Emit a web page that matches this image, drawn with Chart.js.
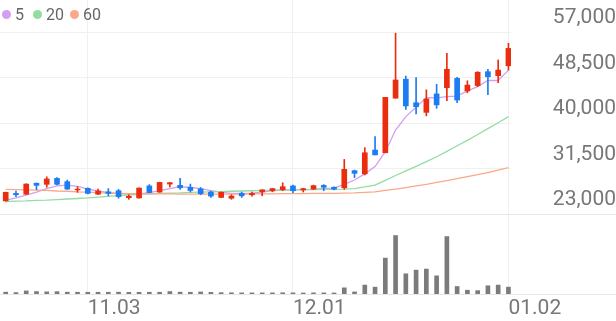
<!DOCTYPE html>
<html>
<head>
<meta charset="utf-8">
<script src="https://cdn.jsdelivr.net/npm/chart.js@4.4.1/dist/chart.umd.min.js"></script>
<style>
  html, body { margin: 0; padding: 0; background: #fff; }
  #wrap { position: relative; width: 616px; height: 321px; overflow: hidden; font-family: Roboto, sans-serif; }
  #price { position: absolute; left: 0; top: 0; }
  #volume { position: absolute; left: 0; top: 214px; }
  .dot { position: absolute; top: 10px; width: 9px; height: 9px; border-radius: 50%; }
  .lbl { position: absolute; top: 5px; font-size: 16px; line-height: 20px; color: #666; }
</style>
</head>
<body>
<div id="wrap">
  <canvas id="price" width="616" height="214"></canvas>
  <canvas id="volume" width="616" height="107"></canvas>
  <div id="legend"></div>
</div>
<script>
// ---- data ----
const maNames = ['5', '20', '60'];
const maColors = ['#d59ef0', '#93dda3', '#fba886'];

const opens = [25450, 26850, 26700, 28750, 28550, 29650, 29050, 27500, 27800, 26700,
               27150, 27350, 26050, 26000, 28250, 27100, 28600, 28350, 28000, 27700,
               27100, 26100, 25950, 26850, 26600, 27150, 27350, 27550, 28250, 27500,
               27650, 28350, 28000, 27900, 31100, 30500, 34950, 34450, 44650, 48200,
               43800, 42000, 45450, 46600, 48350, 46000, 47000, 49600, 48850, 50700];
const highs = [27100, 27300, 28650, 28800, 29950, 29800, 29350, 28100, 27900, 27650,
               27750, 27600, 26600, 27900, 28500, 28950, 28900, 29650, 28600, 27950,
               27300, 27150, 26600, 27100, 27100, 27550, 27800, 28850, 28400, 27800,
               28400, 28500, 28100, 33200, 31200, 35400, 37450, 44800, 56800, 48800,
               48500, 46200, 47250, 53050, 48550, 47900, 49600, 50050, 51800, 54900];
const lows = [25400, 26250, 26650, 27550, 28000, 28450, 27600, 27050, 26750, 26600,
              26400, 25950, 25750, 25950, 26950, 27050, 28050, 27600, 27100, 26600,
              26100, 26050, 25750, 26100, 26350, 26400, 27150, 27350, 27000, 27100,
              27600, 27350, 27500, 27600, 29800, 30300, 34050, 34450, 44650, 42550,
              41700, 41350, 42750, 44200, 43800, 45650, 46800, 45300, 47550, 49900];
const closes = [27050, 26600, 28600, 28350, 29550, 28550, 27650, 27650, 26850, 27300,
                26850, 26250, 26300, 27850, 27000, 28900, 28850, 27900, 27400, 26800,
                26350, 27050, 26350, 26400, 26850, 27500, 27750, 28100, 27350, 27750,
                28300, 28000, 27650, 31350, 30600, 34450, 34050, 44800, 48050, 43200,
                43050, 44500, 43400, 50050, 44300, 47100, 49500, 48650, 49900, 53950];

const ma5 = [25600, 26000, 26550, 27100, 27750, 28250, 28400, 28150, 27650, 27300,
             27000, 26850, 26700, 26750, 27000, 27350, 27750, 28100, 27950, 27750,
             27350, 27100, 26850, 26850, 26900, 27100, 27350, 27500, 27500, 27550,
             27600, 27800, 27850, 28550, 29350, 30500, 31850, 34650, 38700, 41200,
             42950, 44750, 44700, 44950, 45050, 46000, 46800, 47950, 47950, 49900];
const ma20 = [25300, 25400, 25450, 25550, 25600, 25700, 25800, 25900, 26000, 26150,
              26300, 26450, 26550, 26650, 26750, 26850, 26900, 26950, 27050, 27100,
              27150, 27200, 27250, 27300, 27350, 27400, 27450, 27450, 27500, 27550,
              27550, 27600, 27600, 27650, 27750, 28050, 28400, 29300, 30200, 31050,
              31900, 32800, 33700, 34700, 35750, 36750, 37850, 38950, 40050, 41200];
const ma60 = [27600, 27550, 27500, 27450, 27400, 27300, 27250, 27150, 27100, 27000,
              26900, 26850, 26800, 26800, 26750, 26750, 26750, 26700, 26700, 26700,
              26700, 26700, 26700, 26700, 26750, 26750, 26750, 26800, 26800, 26800,
              26850, 26850, 26850, 26900, 26950, 27050, 27150, 27400, 27650, 27950,
              28250, 28550, 28900, 29250, 29600, 30000, 30350, 30750, 31200, 31650];

// volume, thousand shares
const volumes = [180, 140, 300, 240, 210, 230, 180, 170, 170, 170,
                 170, 180, 160, 170, 170, 170, 240, 180, 170, 200,
                 160, 130, 120, 110, 110, 110, 110, 120, 110, 100,
                 110, 110, 100, 600, 200, 870, 670, 3500, 5700, 1970,
                 2330, 2430, 1770, 5600, 730, 370, 330, 800, 870, 670];

const priceTicks = [23000, 31500, 40000, 48500, 57000];
const dateTickIdx = [8, 28, 49];
const dateTickLabels = ['11.03', '12.01', '01.02'];

// ---- chart setup ----
const UP = '#ea2c0f';
const DOWN = '#1b7cf3';
const GRID = '#f0f0f0';
const AXIS_FONT = { family: 'Roboto', size: 21 };
const candleColor = ctx => closes[ctx.dataIndex] >= opens[ctx.dataIndex] ? UP : DOWN;

const xRange = { type: 'linear', min: -0.556, max: 49.25, offset: false };

// legend (html overlay)
const legendEl = document.getElementById('legend');
const dotLeft = [1.5, 32.5, 69.5];
const textLeft = [15, 46, 83];
maNames.forEach((name, i) => {
    legendEl.insertAdjacentHTML('beforeend',
        `<span class="dot" style="left:${dotLeft[i]}px;background:${maColors[i]}"></span>` +
        `<span class="lbl" style="left:${textLeft[i]}px">${name}</span>`);
});

const maSets = [ma5, ma20, ma60].map((arr, i) => ({
    type: 'line',
    label: maNames[i],
    data: arr.map((v, k) => ({ x: k, y: v })),
    borderColor: maColors[i],
    borderWidth: 1.3,
    pointRadius: 0,
    tension: 0,
    order: 4 - i
}));

new Chart(document.getElementById('price'), {
    type: 'bar',
    data: {
        datasets: [
            ...maSets,
            {
                label: 'wick',
                data: highs.map((h, i) => ({ x: i, y: [lows[i], h] })),
                backgroundColor: candleColor,
                barThickness: 1,
                grouped: false,
                order: 1
            },
            {
                label: 'body',
                data: opens.map((o, i) => ({ x: i, y: [o, closes[i]] })),
                backgroundColor: candleColor,
                barThickness: 5,
                grouped: false,
                order: 0
            }
        ]
    },
    options: {
        responsive: false,
        animation: false,
        layout: { padding: 0 },
        plugins: { legend: { display: false }, tooltip: { enabled: false } },
        scales: {
            x: {
                ...xRange,
                afterBuildTicks: s => { s.ticks = dateTickIdx.map(v => ({ value: v })); },
                ticks: { display: false },
                grid: { color: GRID, drawTicks: false, offset: false },
                border: { display: false }
            },
            y: {
                position: 'right',
                min: 23000,
                max: 63000,
                afterBuildTicks: s => { s.ticks = priceTicks.map(v => ({ value: v })); },
                afterFit: s => {
                    s.width = 105;
                    s.paddingTop = 0;
                    s.paddingBottom = 0;
                },
                ticks: {
                    callback: v => v.toLocaleString('en-US'),
                    color: '#777',
                    font: AXIS_FONT,
                    crossAlign: 'far',
                    padding: 38,
                    labelOffset: -14
                },
                grid: { color: GRID, drawTicks: false },
                border: { display: false }
            }
        }
    }
});

// separator + baseline across the whole width
const frameLines = {
    id: 'frameLines',
    beforeDatasetsDraw(chart) {
        const { ctx, chartArea, width } = chart;
        ctx.save();
        ctx.strokeStyle = '#e6e6e6';
        ctx.lineWidth = 1;
        ctx.beginPath();
        ctx.moveTo(0, 0.5);
        ctx.lineTo(width, 0.5);
        ctx.moveTo(0, chartArea.bottom + 0.5);
        ctx.lineTo(width, chartArea.bottom + 0.5);
        ctx.stroke();
        ctx.restore();
    }
};

new Chart(document.getElementById('volume'), {
    type: 'bar',
    data: {
        datasets: [{
            label: 'volume',
            data: volumes.map((v, i) => ({ x: i, y: v })),
            backgroundColor: '#7b7b7b',
            barThickness: 4
        }]
    },
    options: {
        responsive: false,
        animation: false,
        layout: { padding: 0 },
        plugins: { legend: { display: false }, tooltip: { enabled: false } },
        scales: {
            x: {
                ...xRange,
                afterBuildTicks: s => { s.ticks = dateTickIdx.map(v => ({ value: v })); },
                afterFit: s => { s.height = 27; },
                ticks: {
                    align: 'start',
                    padding: 2,
                    autoSkip: false,
                    maxRotation: 0,
                    color: '#777',
                    font: AXIS_FONT,
                    callback: v => dateTickLabels[dateTickIdx.indexOf(v)]
                },
                grid: { color: GRID, drawTicks: false, offset: false },
                border: { display: false }
            },
            y: {
                position: 'right',
                min: 0,
                max: 7800,
                afterFit: s => { s.width = 105; },
                ticks: { display: false },
                grid: { display: false },
                border: { display: false }
            }
        }
    },
    plugins: [frameLines]
});
</script>
</body>
</html>
